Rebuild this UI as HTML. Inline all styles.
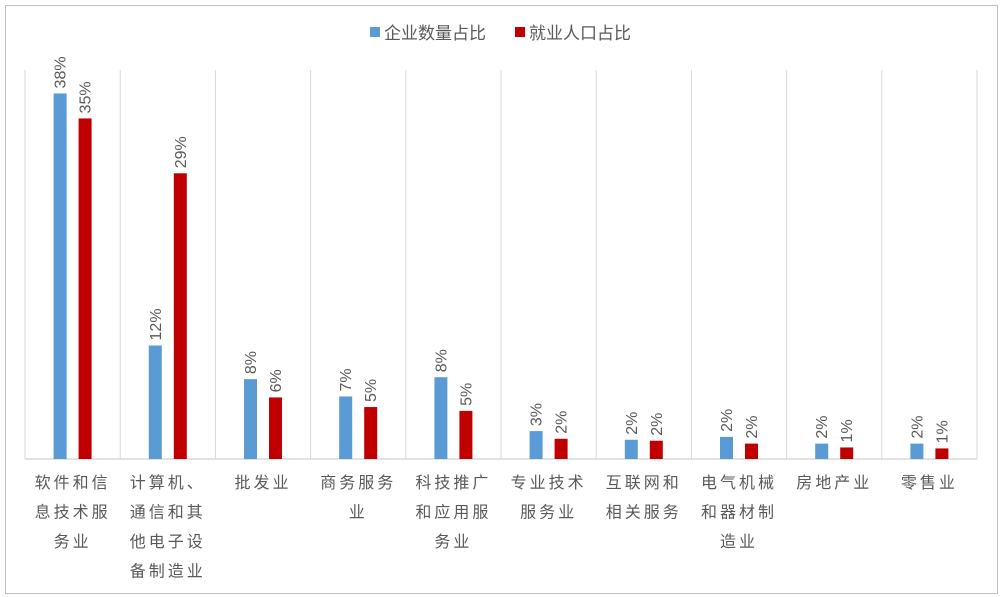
<!DOCTYPE html>
<html><head><meta charset="utf-8"><style>
body{margin:0;background:#fff;}
svg{display:block;font-family:"Liberation Sans","Noto Sans CJK SC",sans-serif;}
</style></head><body>
<svg id="chart" width="1006" height="597">
<rect x="5.5" y="5.5" width="992" height="588" fill="#fff" stroke="#bfbfbf"/>
<g>
<rect x="370" y="27" width="10" height="10" fill="#5b9bd5"/>
<text x="384" y="39" font-size="17" fill="#595959">企业数量占比</text>
<rect x="515" y="27" width="10" height="10" fill="#c00000"/>
<text x="529" y="39" font-size="17" fill="#595959">就业人口占比</text>
</g>
<g id="plot"></g>
</svg>
<script>
const categories=[["软件和信","息技术服","务业"],["计算机、","通信和其","他电子设","备制造业"],["批发业"],["商务服务","业"],["科技推广","和应用服","务业"],["专业技术","服务业"],["互联网和","相关服务"],["电气机械","和器材制","造业"],["房地产业"],["零售业"]];
const enterpriseShare=[38,11.8,8.3,6.5,8.5,2.9,2.0,2.3,1.6,1.6];
const employmentShare=[35.4,29.7,6.4,5.4,5.0,2.1,1.9,1.6,1.2,1.1];
const enterpriseLabels=["38%","12%","8%","7%","8%","3%","2%","2%","2%","2%"];
const employmentLabels=["35%","29%","6%","5%","5%","2%","2%","2%","1%","1%"];
const NS="http://www.w3.org/2000/svg";
const plotG=document.getElementById('plot');
const x0=25,x1=977,base=459,plotTop=70,pxPer=9.62;
const bw=(x1-x0)/categories.length;
const yScale=v=>base-v*pxPer;
function mk(t,a){const e=document.createElementNS(NS,t);for(const k in a)e.setAttribute(k,a[k]);plotG.appendChild(e);return e;}
for(let i=0;i<=categories.length;i++){
 const l=mk('line',{x1:x0+i*bw,x2:x0+i*bw,y1:plotTop,y2:base,stroke:'#d9d9d9'});
 
 
}
const ax=mk('line',{x1:x0,x2:x1,y1:base,y2:base,stroke:'#d9d9d9','stroke-width':1.5});


categories.forEach((c,i)=>{
 const cx=x0+i*bw+bw/2;
 [[enterpriseShare,enterpriseLabels,'#5b9bd5',-12.5,'enterprise'],[employmentShare,employmentLabels,'#c00000',12.5,'employment']].forEach(([vals,labs,col,off,nm])=>{
  const v=vals[i],bx=cx+off;
  const r=mk('rect',{x:bx-6.5,y:yScale(v),width:13,height:base-yScale(v),fill:col});
  
  
  const t=mk('text',{x:0,y:0,transform:`translate(${bx+5.5},${yScale(v)-5}) rotate(-90)`,'font-size':16,fill:'#595959'});
  t.textContent=labs[i];
  
  
 });
 c.forEach((line,j)=>{
  const t=mk('text',{x:cx,y:488+j*29.5,'text-anchor':'middle','font-size':16,'letter-spacing':3,fill:'#595959'});
  t.textContent=line;
  
  
 });
});
</script>
</body></html>
